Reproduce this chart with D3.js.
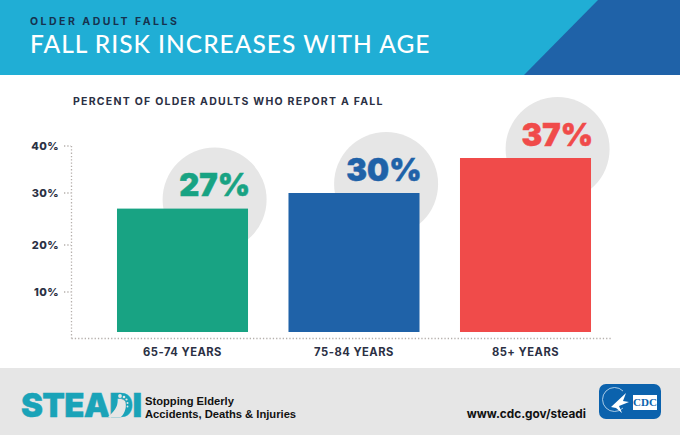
<!DOCTYPE html>
<html>
<head>
  <meta charset="utf-8">
  <title>Fall risk increases with age</title>
  <style>
    html, body { margin: 0; padding: 0; background: #fff; }
    svg { display: block; }
    text { font-family: Inter, sans-serif; }
    .tick-label { font-size: 11px; font-weight: 800; fill: #2b3044; letter-spacing: .4px; }
    .cat-label { font-size: 11.2px; font-weight: 700; fill: #2b3044; letter-spacing: .5px; }
  </style>
</head>
<body>
  <div id="chart"></div>

  <script src="https://cdn.jsdelivr.net/npm/d3@7"></script>
  <script>
    var categories = ["65-74 YEARS", "75-84 YEARS", "85+ YEARS"];
    var percents = [27, 30, 37];
    var barColors = ["#18a383", "#1f62a8", "#f04b4a"];
    var yTicks = [10, 20, 30, 40];

    var width = 680, height = 435;

    var svg = d3.select("#chart").append("svg")
      .attr("width", width)
      .attr("height", height);

    // header band
    svg.append("rect").attr("width", width).attr("height", 75).attr("fill", "#20aed5");
    svg.append("path").attr("d", "M524,75L598,0L680,0L680,75Z").attr("fill", "#1f62a8");
    svg.append("text").attr("x", 30).attr("y", 25)
      .style("font-size", "10.5px").style("font-weight", 700).style("letter-spacing", "2.5px")
      .attr("fill", "#16324f").text("OLDER ADULT FALLS");
    svg.append("text").attr("x", 30).attr("y", 52.5)
      .style("font-family", "Lato, sans-serif")
      .style("font-size", "24.5px").style("font-weight", 500).style("letter-spacing", "1px")
      .attr("fill", "#fff").text("FALL RISK INCREASES WITH AGE");

    svg.append("text").attr("x", 73).attr("y", 105)
      .style("font-size", "10.5px").style("font-weight", 700).style("letter-spacing", "1.25px")
      .attr("fill", "#2b3044").text("PERCENT OF OLDER ADULTS WHO REPORT A FALL");

    // footer band
    svg.append("rect").attr("y", 368).attr("width", width).attr("height", 67).attr("fill", "#e6e6e6");

    // the y axis in the picture is not quite even, so the scale goes through each read position
    var y = d3.scaleLinear()
      .domain([0, 10, 20, 30, 37, 40])
      .range([332, 292, 245, 193, 158, 146]);

    var x = d3.scaleBand()
      .domain(categories)
      .range([96, 612])
      .paddingInner(0.236)
      .paddingOuter(0.1224);

    // circles behind the bars
    svg.selectAll("circle.halo")
      .data(percents)
      .enter()
      .append("circle")
      .attr("class", "halo")
      .attr("cx", function(d, i) { return x(categories[i]) + x.bandwidth() * 0.745; })
      .attr("cy", function(d) { return y(d) - 9; })
      .attr("r", 52)
      .attr("fill", "#e6e6e6");

    // dotted axes
    var axis = svg.append("g").attr("fill", "none").attr("stroke", "#b5b0ac")
      .attr("stroke-width", 1.3).attr("stroke-dasharray", "1.3 2");
    axis.append("path").attr("d", "M71.5,146V338.5");
    axis.append("path").attr("d", "M71.5,338.5H612");
    axis.selectAll("path.tick")
      .data(yTicks)
      .enter()
      .append("path")
      .attr("class", "tick")
      .attr("d", function(d) { return "M64," + y(d) + "H71"; });

    svg.selectAll("text.tick-label")
      .data(yTicks)
      .enter()
      .append("text")
      .attr("class", "tick-label")
      .attr("x", 59)
      .attr("y", function(d) { return y(d); })
      .attr("dy", ".36em")
      .attr("text-anchor", "end")
      .text(function(d) { return d + "%"; });

    // bars
    svg.selectAll("rect.bar")
      .data(percents)
      .enter()
      .append("rect")
      .attr("class", "bar")
      .attr("x", function(d, i) { return x(categories[i]); })
      .attr("y", function(d) { return y(d); })
      .attr("width", x.bandwidth())
      .attr("height", function(d) { return y(0) - y(d); })
      .attr("fill", function(d, i) { return barColors[i]; });

    svg.selectAll("text.value")
      .data(percents)
      .enter()
      .append("text")
      .attr("class", "value")
      .attr("x", function(d, i) { return x(categories[i]) + x.bandwidth() + 2; })
      .attr("y", function(d) { return y(d) - 12.5; })
      .attr("text-anchor", "end")
      .style("font-size", "31px")
      .style("font-weight", 900)
      .attr("fill", function(d, i) { return barColors[i]; })
      .attr("stroke", function(d, i) { return barColors[i]; })
      .attr("stroke-width", .5)
      .text(function(d) { return d + "%"; });

    svg.selectAll("text.cat-label")
      .data(categories)
      .enter()
      .append("text")
      .attr("class", "cat-label")
      .attr("x", function(d) { return x(d) + x.bandwidth() / 2; })
      .attr("y", 356)
      .attr("text-anchor", "middle")
      .text(function(d) { return d; });

    // STEADI wordmark, the D carries a foot
    svg.append("text").attr("x", 21).attr("y", 417)
      .style("font-size", "33px").style("font-weight", 900).style("letter-spacing", "-.7px")
      .attr("fill", "#1aa3b8").attr("stroke", "#1aa3b8").attr("stroke-width", .4).text("STEADI");
    var foot = svg.append("g").attr("fill", "#e6e6e6");
    foot.append("path").attr("d", "M108,417C114,412 118,406 118,400L125,401C127,407 125,413 121,417Z");
    foot.selectAll("circle")
      .data([[120, 396, 1.9], [124, 397, 1.3], [126.5, 399.5, 1.1], [127.5, 403, 1], [127.5, 406.5, .9]])
      .enter()
      .append("circle")
      .attr("cx", function(d) { return d[0]; })
      .attr("cy", function(d) { return d[1]; })
      .attr("r", function(d) { return d[2]; });

    svg.append("text").attr("x", 145).attr("y", 405)
      .style("font-family", "Liberation Sans, sans-serif")
      .style("font-size", "11.2px").style("font-weight", 700)
      .attr("fill", "#111").text("Stopping Elderly");
    svg.append("text").attr("x", 145).attr("y", 417.5)
      .style("font-family", "Liberation Sans, sans-serif")
      .style("font-size", "11.2px").style("font-weight", 700)
      .attr("fill", "#111").text("Accidents, Deaths & Injuries");

    svg.append("text").attr("x", 586).attr("y", 417.5)
      .attr("text-anchor", "end")
      .style("font-size", "11.8px").style("font-weight", 700)
      .attr("fill", "#111").text("www.cdc.gov/steadi");

    // CDC badge
    var badge = svg.append("g").attr("transform", "translate(599,384)");
    badge.append("rect").attr("width", 62).attr("height", 35).attr("rx", 7).attr("fill", "#0b62ad");
    badge.append("path").attr("d", "M24,7A12,12 0 1 0 24,24")
      .attr("fill", "none").attr("stroke", "#cfe3f3").attr("stroke-width", .8);
    badge.append("path").attr("d", "M12,23L27,9L24,17L30,18L20,22L23,29L17,24Z").attr("fill", "#fff");
    badge.append("rect").attr("x", 34).attr("y", 11).attr("width", 24).attr("height", 15).attr("fill", "#fff");
    badge.append("text").attr("x", 46).attr("y", 21.5).attr("text-anchor", "middle")
      .style("font-family", "Liberation Serif, serif").style("font-size", "11px").style("font-weight", 700)
      .attr("fill", "#0b62ad").text("CDC");
  </script>
</body>
</html>
